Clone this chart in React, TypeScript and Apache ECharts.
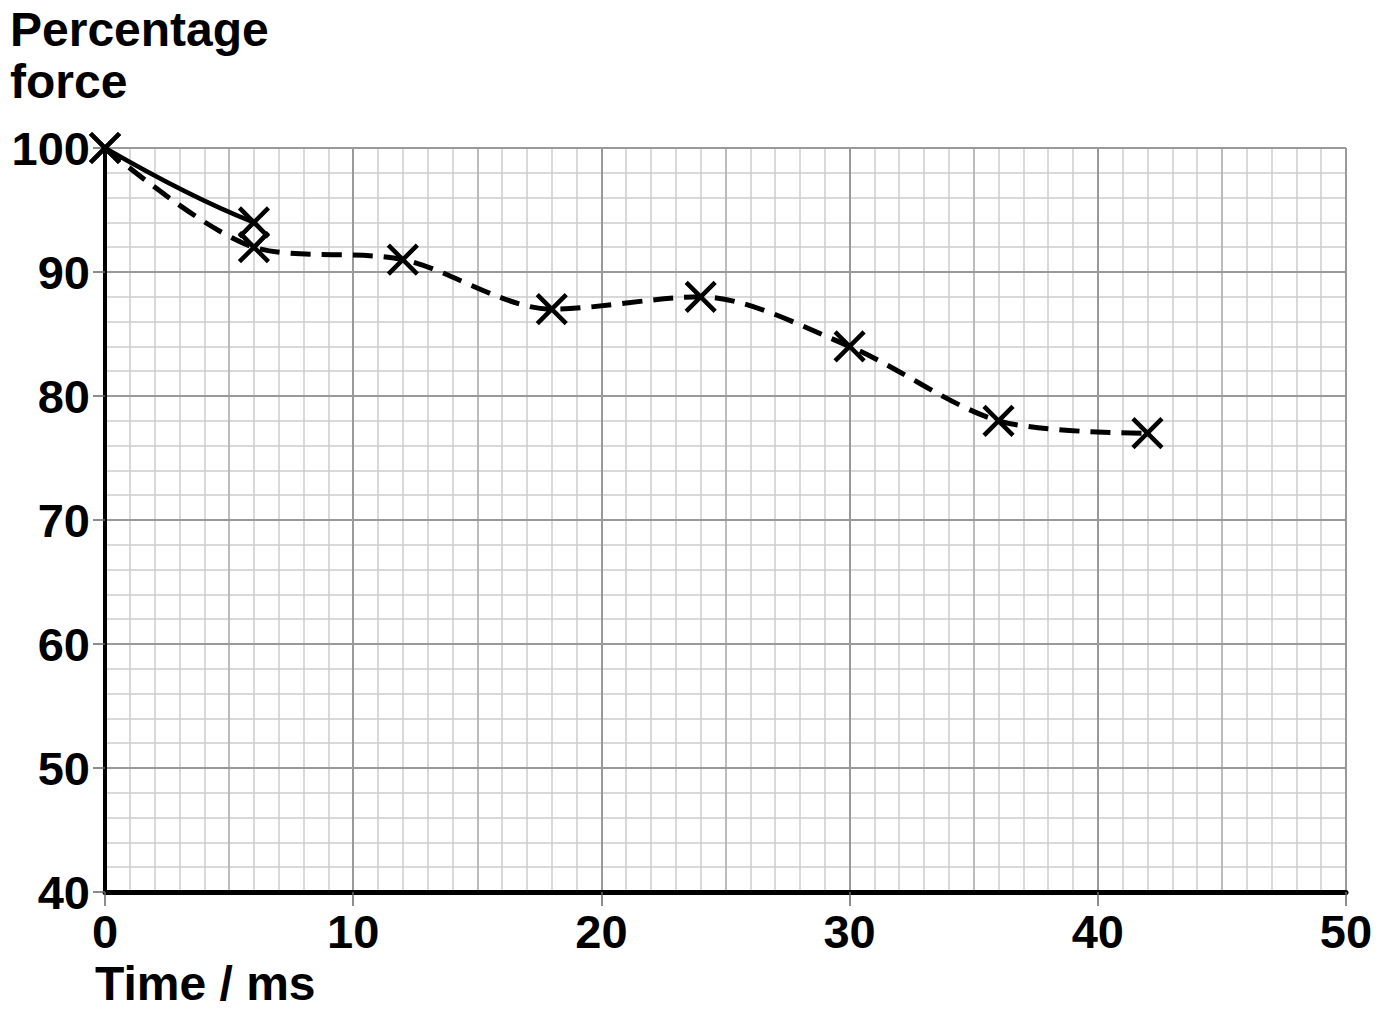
import React, { useEffect, useRef } from "react";
import * as echarts from "echarts";

// ---- data ----
const timeDashed = [0, 6, 12, 18, 24, 30, 36, 42];
const forceDashed = [100, 92, 91, 87, 88, 84, 78, 77];
const timeSolid = [0, 6];
const forceSolid = [100, 94];
const diamondTime = [6];
const diamondForce = [93];
const xTickLabels = [0, 10, 20, 30, 40, 50];
const yTickLabels = [40, 50, 60, 70, 80, 90, 100];

const FONT = "'Liberation Sans', Arial, Helvetica, sans-serif";
const CROSS = "path://M0,0L20,20M20,0L0,20";

export default function App() {
  const ref = useRef<HTMLDivElement>(null);
  useEffect(() => {
    if (!ref.current) return;
    const chart = echarts.init(ref.current, undefined, { renderer: "svg" });
    const dashedData = timeDashed.map((t, i) => [t, forceDashed[i]]);
    const solidData = timeSolid.map((t, i) => [t, forceSolid[i]]);
    const markerData = [...dashedData, ...solidData];
    const diamondData = diamondTime.map((t, i) => [t, diamondForce[i]]);

    const labelStyle = { fontFamily: FONT, fontWeight: "bold" as const, fontSize: 47, color: "#000" };

    chart.setOption({
      animation: false,
      backgroundColor: "#fff",
      grid: { left: 105, top: 148, right: 43, bottom: 120, containLabel: false, outerBoundsMode: "none" },
      xAxis: [
        {
          type: "value", min: 0, max: 50, interval: 1, position: "bottom", z: 0,
          axisLine: { show: false }, axisTick: { show: false }, axisLabel: { show: false },
          splitLine: { show: true, lineStyle: { color: "#cccccc", width: 1.5 } },
        },
        {
          type: "value", min: 0, max: 50, interval: 5, position: "bottom", z: 1,
          axisLine: { show: false }, axisTick: { show: false }, axisLabel: { show: false },
          splitLine: { show: true, lineStyle: { color: "#b0b0b0", width: 1.5 } },
        },
        {
          type: "value", min: 0, max: 50, interval: 10, position: "bottom", z: 2,
          axisLine: { show: true, onZero: false, lineStyle: { color: "#000", width: 5 } },
          axisTick: { show: true, length: 14, lineStyle: { color: "#666", width: 1.5 } },
          axisLabel: {
            ...labelStyle, margin: 16,
            formatter: (v: number) => (xTickLabels.includes(v) ? String(v) : ""),
          },
          splitLine: { show: true, lineStyle: { color: "#999999", width: 2 } },
        },
      ],
      yAxis: [
        {
          type: "value", min: 40, max: 100, interval: 2, position: "left", z: 0,
          axisLine: { show: false }, axisTick: { show: false }, axisLabel: { show: false },
          splitLine: { show: true, lineStyle: { color: "#cccccc", width: 1.5 } },
        },
        {
          type: "value", min: 40, max: 100, interval: 10, position: "left", z: 2,
          axisLine: { show: true, onZero: false, lineStyle: { color: "#000", width: 4 } },
          axisTick: { show: true, length: 12, lineStyle: { color: "#666", width: 1.5 } },
          axisLabel: {
            ...labelStyle, margin: 15,
            formatter: (v: number) => (yTickLabels.includes(v) ? String(v) : ""),
          },
          splitLine: { show: true, lineStyle: { color: "#999999", width: 2 } },
        },
      ],
      graphic: [
        { type: "text", left: 10, top: 5, style: { text: "Percentage", font: `bold 48px ${FONT}`, fill: "#000" } },
        { type: "text", left: 10, top: 57, style: { text: "force", font: `bold 48px ${FONT}`, fill: "#000" } },
        { type: "text", left: 95, top: 959, style: { text: "Time / ms", font: `bold 48px ${FONT}`, fill: "#000" } },
      ],
      series: [
        {
          type: "line", xAxisIndex: 2, yAxisIndex: 1, data: dashedData, smooth: 0.3,
          showSymbol: false, z: 3,
          lineStyle: { color: "#000", width: 5, type: [20, 11], cap: "butt" },
        },
        {
          type: "custom", xAxisIndex: 2, yAxisIndex: 1, data: [solidData[0]], z: 3,
          renderItem: (params: any, api: any) => {
            const p0 = api.coord(solidData[0]);
            const p1 = api.coord(solidData[1]);
            return {
              type: "bezierCurve",
              shape: {
                x1: p0[0], y1: p0[1], x2: p1[0], y2: p1[1],
                cpx1: p0[0] + 0.58 * (p1[0] - p0[0]),
                cpy1: p0[1] + 0.67 * (p1[1] - p0[1]),
              },
              style: { stroke: "#000", lineWidth: 4.5, fill: "none" },
            };
          },
        },
        {
          type: "scatter", xAxisIndex: 2, yAxisIndex: 1, data: markerData, symbol: CROSS,
          symbolSize: 29, z: 4,
          itemStyle: { color: "rgba(0,0,0,0)", borderColor: "#000", borderWidth: 4.5, opacity: 1 },
        },
        {
          type: "scatter", xAxisIndex: 2, yAxisIndex: 1, data: diamondData, symbol: "diamond",
          symbolSize: [24, 26], z: 4,
          itemStyle: { color: "rgba(0,0,0,0)", borderColor: "#000", borderWidth: 4, opacity: 1 },
        },
      ],
    });
    return () => chart.dispose();
  }, []);
  return <div ref={ref} style={{ width: 1389, height: 1012, position: "absolute", left: 0, top: 0 }} />;
}
